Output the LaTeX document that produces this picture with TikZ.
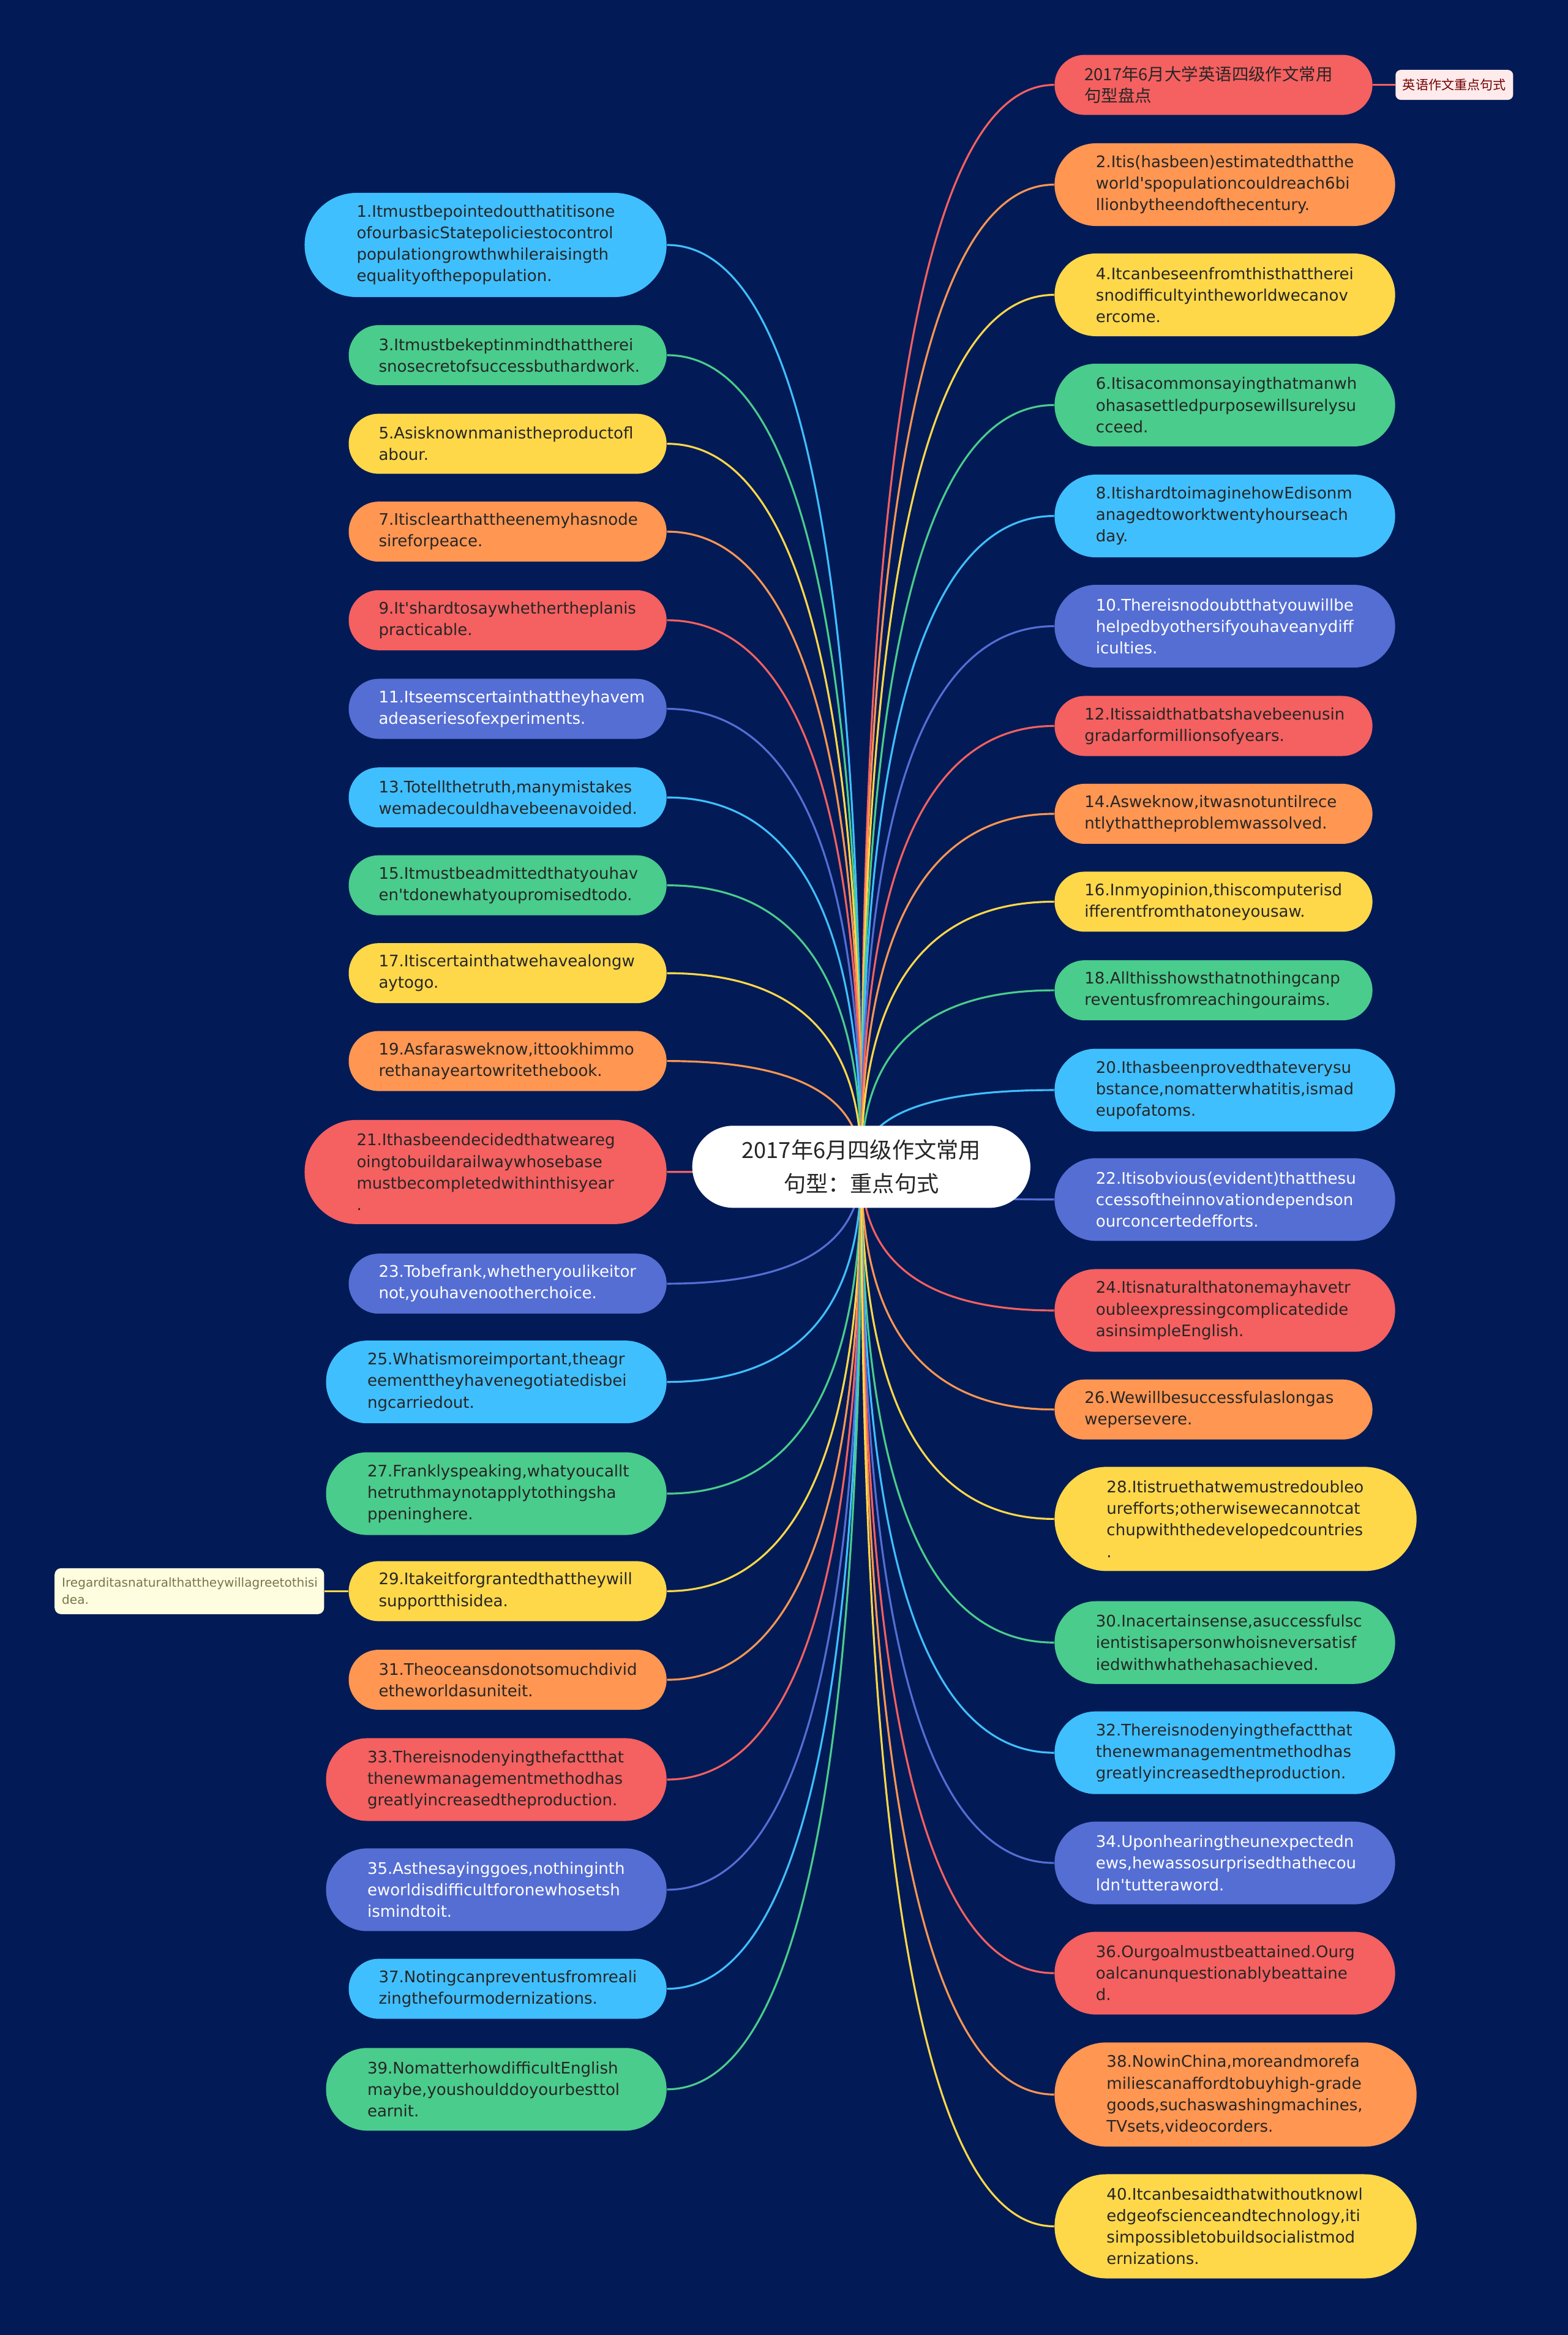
\documentclass[tikz,border=0pt]{standalone}
\usepackage{fontspec}
\usetikzlibrary{shapes.misc,calc,backgrounds}
\newfontfamily\latin{DejaVu Sans}
\newfontfamily\cjk{Noto Sans CJK SC}
\definecolor{cBack}{RGB}{2,27,86}
\definecolor{cSky}{HTML}{40BFFF}
\definecolor{cGreen}{HTML}{4ACC8C}
\definecolor{cYellow}{HTML}{FFD84A}
\definecolor{cOrange}{HTML}{FF9652}
\definecolor{cRed}{HTML}{F56060}
\definecolor{cIndigo}{HTML}{556ED4}
\definecolor{cText}{HTML}{262626}
\hyphenpenalty=10000
\exhyphenpenalty=10000
\tikzset{
  sent/.style={rounded rectangle, inner xsep=0pt, inner ysep=0pt, text width=4.21cm,
    align=left, text=cText, font=\latin\fontsize{7.4}{10}\selectfont},
  two/.style={minimum height=.98cm, minimum width=5.19cm},
  three/.style={minimum height=1.35cm, minimum width=5.56cm},
  four/.style={minimum height=1.70cm, minimum width=5.91cm},
  fsky/.style={fill=cSky},
  fgreen/.style={fill=cGreen},
  fyellow/.style={fill=cYellow},
  forange/.style={fill=cOrange},
  fred/.style={fill=cRed},
  findigo/.style={fill=cIndigo, text=white},
  link/.style={line width=.9pt},
}
\begin{document}
\begin{tikzpicture}[x=0.02431cm,y=-0.02431cm]
% root
\node[rounded rectangle, fill=white, inner xsep=0pt, minimum height=1.34cm, minimum width=5.52cm,
  text width=4.18cm, align=center, text=cText, font=\cjk\fontsize{10.3}{15.5}\selectfont] (root)
  at (578.5,783.5) {2017年6月四级作文常用\\句型：重点句式};

% left side
\node[sent,fsky,four,anchor=east] (l1) at (448,164.5) {1.Itmustbepointedoutthatitisone\\ofourbasicStatepoliciestocontrol\\populationgrowthwhileraisingth\\equalityofthepopulation.};
\node[sent,fgreen,two,anchor=east] (l3) at (448,238.5) {3.Itmustbekeptinmindthattherei\\snosecretofsuccessbuthardwork.};
\node[sent,fyellow,two,anchor=east] (l5) at (448,298) {5.Asisknownmanistheproductofl\\abour.};
\node[sent,forange,two,anchor=east] (l7) at (448,357) {7.Itisclearthattheenemyhasnode\\sireforpeace.};
\node[sent,fred,two,anchor=east] (l9) at (448,416.5) {9.It\textquotesingle shardtosaywhethertheplanis\\practicable.};
\node[sent,findigo,two,anchor=east] (l11) at (448,476) {11.Itseemscertainthattheyhavem\\adeaseriesofexperiments.};
\node[sent,fsky,two,anchor=east] (l13) at (448,535.5) {13.Totellthetruth,manymistakes\\wemadecouldhavebeenavoided.};
\node[sent,fgreen,two,anchor=east] (l15) at (448,594.5) {15.Itmustbeadmittedthatyouhav\\en\textquotesingle tdonewhatyoupromisedtodo.};
\node[sent,fyellow,two,anchor=east] (l17) at (448,653.5) {17.Itiscertainthatwehavealongw\\aytogo.};
\node[sent,forange,two,anchor=east] (l19) at (448,712.5) {19.Asfarasweknow,ittookhimmo\\rethanayeartowritethebook.};
\node[sent,fred,four,anchor=east] (l21) at (448,787) {21.Ithasbeendecidedthatweareg\\oingtobuildarailwaywhosebase\\mustbecompletedwithinthisyear\\.};
\node[sent,findigo,two,anchor=east] (l23) at (448,862) {23.Tobefrank,whetheryoulikeitor\\not,youhavenootherchoice.};
\node[sent,fsky,three,anchor=east] (l25) at (448,928) {25.Whatismoreimportant,theagr\\eementtheyhavenegotiatedisbei\\ngcarriedout.};
\node[sent,fgreen,three,anchor=east] (l27) at (448,1003) {27.Franklyspeaking,whatyoucallt\\hetruthmaynotapplytothingsha\\ppeninghere.};
\node[sent,fyellow,two,anchor=east] (l29) at (448,1068.5) {29.Itakeitforgrantedthattheywill\\supportthisidea.};
\node[sent,forange,two,anchor=east] (l31) at (448,1128) {31.Theoceansdonotsomuchdivid\\etheworldasuniteit.};
\node[sent,fred,three,anchor=east] (l33) at (448,1195) {33.Thereisnodenyingthefactthat\\thenewmanagementmethodhas\\greatlyincreasedtheproduction.};
\node[sent,findigo,three,anchor=east] (l35) at (448,1269) {35.Asthesayinggoes,nothinginth\\eworldisdifficultforonewhosetsh\\ismindtoit.};
\node[sent,fsky,two,anchor=east] (l37) at (448,1335.5) {37.Notingcanpreventusfromreali\\zingthefourmodernizations.};
\node[sent,fgreen,three,anchor=east] (l39) at (448,1403) {39.NomatterhowdifficultEnglish\\maybe,youshoulddoyourbesttol\\earnit.};

% right side
\node[sent,fred,two,anchor=west,font=\cjk\fontsize{7.8}{10}\selectfont] (r0) at (708,57) {2017年6月大学英语四级作文常用\\句型盘点};
\node[sent,forange,three,anchor=west] (r2) at (708,124) {2.Itis(hasbeen)estimatedthatthe\\world\textquotesingle spopulationcouldreach6bi\\llionbytheendofthecentury.};
\node[sent,fyellow,three,anchor=west] (r4) at (708,198) {4.Itcanbeseenfromthisthattherei\\snodifficultyintheworldwecanov\\ercome.};
\node[sent,fgreen,three,anchor=west] (r6) at (708,272) {6.Itisacommonsayingthatmanwh\\ohasasettledpurposewillsurelysu\\cceed.};
\node[sent,fsky,three,anchor=west] (r8) at (708,346.5) {8.ItishardtoimaginehowEdisonm\\anagedtoworktwentyhourseach\\day.};
\node[sent,findigo,three,anchor=west] (r10) at (708,420.5) {10.Thereisnodoubtthatyouwillbe\\helpedbyothersifyouhaveanydiff\\iculties.};
\node[sent,fred,two,anchor=west] (r12) at (708,487.5) {12.Itissaidthatbatshavebeenusin\\gradarformillionsofyears.};
\node[sent,forange,two,anchor=west] (r14) at (708,546.5) {14.Asweknow,itwasnotuntilrece\\ntlythattheproblemwassolved.};
\node[sent,fyellow,two,anchor=west] (r16) at (708,605.5) {16.Inmyopinion,thiscomputerisd\\ifferentfromthatoneyousaw.};
\node[sent,fgreen,two,anchor=west] (r18) at (708,665) {18.Allthisshowsthatnothingcanp\\reventusfromreachingouraims.};
\node[sent,fsky,three,anchor=west] (r20) at (708,732) {20.Ithasbeenprovedthateverysu\\bstance,nomatterwhatitis,ismad\\eupofatoms.};
\node[sent,findigo,three,anchor=west] (r22) at (708,805.5) {22.Itisobvious(evident)thatthesu\\ccessoftheinnovationdependson\\ourconcertedefforts.};
\node[sent,fred,three,anchor=west] (r24) at (708,880) {24.Itisnaturalthatonemayhavetr\\oubleexpressingcomplicatedide\\asinsimpleEnglish.};
\node[sent,forange,two,anchor=west] (r26) at (708,946.5) {26.Wewillbesuccessfulaslongas\\wepersevere.};
\node[sent,fyellow,four,anchor=west] (r28) at (708,1020) {28.Itistruethatwemustredoubleo\\urefforts;otherwisewecannotcat\\chupwiththedevelopedcountries\\.};
\node[sent,fgreen,three,anchor=west] (r30) at (708,1103) {30.Inacertainsense,asuccessfulsc\\ientistisapersonwhoisneversatisf\\iedwithwhathehasachieved.};
\node[sent,fsky,three,anchor=west] (r32) at (708,1177) {32.Thereisnodenyingthefactthat\\thenewmanagementmethodhas\\greatlyincreasedtheproduction.};
\node[sent,findigo,three,anchor=west] (r34) at (708,1251) {34.Uponhearingtheunexpectedn\\ews,hewassosurprisedthathecou\\ldn\textquotesingle tutteraword.};
\node[sent,fred,three,anchor=west] (r36) at (708,1325) {36.Ourgoalmustbeattained.Ourg\\oalcanunquestionablybeattaine\\d.};
\node[sent,forange,four,anchor=west] (r38) at (708,1406.5) {38.NowinChina,moreandmorefa\\miliescanaffordtobuyhigh-grade\\goods,suchaswashingmachines,\\TVsets,videocorders.};
\node[sent,fyellow,four,anchor=west] (r40) at (708,1495) {40.Itcanbesaidthatwithoutknowl\\edgeofscienceandtechnology,iti\\simpossibletobuildsocialistmod\\ernizations.};

% tag and note
\node[rounded corners=2.5pt, fill=red!8, text=red!45!black, inner sep=0pt, minimum width=1.92cm,
  minimum height=.49cm, font=\cjk\fontsize{6}{7}\selectfont, anchor=west] (tag) at (937,57) {英语作文重点句式};
\node[rounded corners=3pt, fill=yellow!12, text=yellow!40!black, inner xsep=.12cm, inner ysep=0pt,
  text width=4.16cm, minimum height=.75cm, align=left, font=\latin\fontsize{5.7}{8}\selectfont,
  anchor=east] (note) at (218,1068.5) {Iregarditasnaturalthattheywillagreetothisi\\dea.};

\begin{scope}[on background layer]
\fill[cBack] (0,0) rectangle (1053,1568);
\foreach \n/\c in {l1/cSky,l3/cGreen,l5/cYellow,l7/cOrange,l9/cRed,l11/cIndigo,l13/cSky,
    l15/cGreen,l17/cYellow,l19/cOrange,l21/cRed,l23/cIndigo,l25/cSky,l27/cGreen,l29/cYellow,
    l31/cOrange,l33/cRed,l35/cIndigo,l37/cSky,l39/cGreen}
  \draw[link,\c] (root.center) .. controls ($(root.center)!2/3!(root.center |- \n.east)$)
    and ($(\n.east)!2/3!(root.center |- \n.east)$) .. (\n.east);
\foreach \n/\c in {r0/cRed,r2/cOrange,r4/cYellow,r6/cGreen,r8/cSky,r10/cIndigo,r12/cRed,
    r14/cOrange,r16/cYellow,r18/cGreen,r20/cSky,r22/cIndigo,r24/cRed,r26/cOrange,r28/cYellow,
    r30/cGreen,r32/cSky,r34/cIndigo,r36/cRed,r38/cOrange,r40/cYellow}
  \draw[link,\c] (root.center) .. controls ($(root.center)!2/3!(root.center |- \n.west)$)
    and ($(\n.west)!2/3!(root.center |- \n.west)$) .. (\n.west);
\draw[link,cRed] (r0.east) -- (tag.west);
\draw[link,cYellow] (l29.west) -- (note.east);
\end{scope}
\end{tikzpicture}
\end{document}
